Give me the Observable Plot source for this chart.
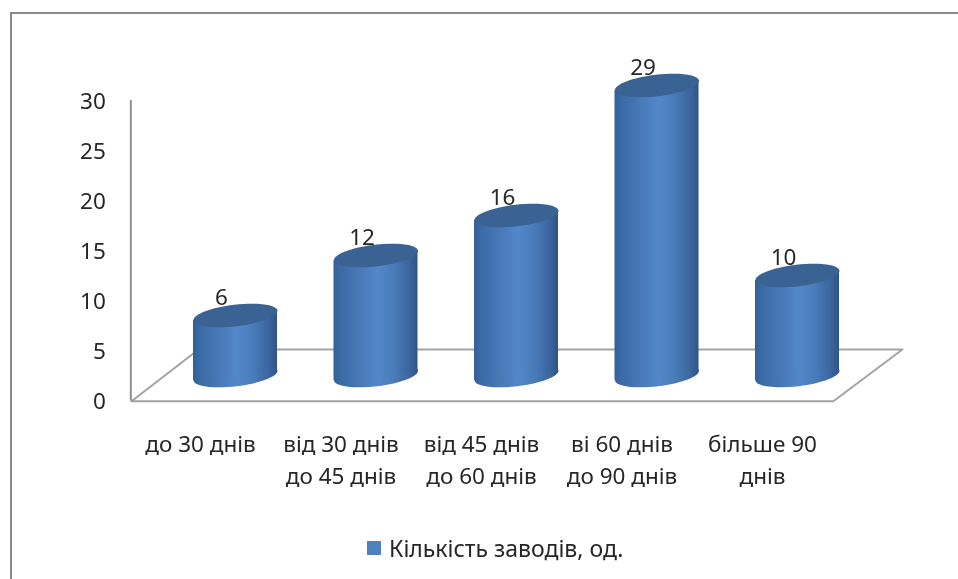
<!DOCTYPE html>
<html lang="uk">
<head>
<meta charset="utf-8">
<script src="https://cdn.jsdelivr.net/npm/d3@7"></script>
<script src="https://cdn.jsdelivr.net/npm/@observablehq/plot@0.6"></script>
<style>
  html, body { margin: 0; padding: 0; background: #fff; }
  #page { position: relative; width: 958px; height: 579px; overflow: hidden; filter: blur(0.6px); font-family: "Noto Sans", sans-serif; color: #262626; }
  #edge { position: absolute; left: 10px; top: 12px; right: 0; bottom: 0; border-left: 2px solid #8a8a8a; border-top: 2px solid #8a8a8a; }
  #chart svg { display: block; }
  #legend { display: flex; align-items: center; height: 56px; padding-left: 367px; font-size: 23px; box-sizing: border-box; }
  #legend i { display: block; width: 14px; height: 14px; background: #4f81bd; margin-right: 8px; }
</style>
</head>
<body>
<div id="page">
  <div id="edge"></div>
  <div id="chart"></div>
  <div id="legend"><i></i><span id="legend-text"></span></div>
</div>
<script>
const categories = ["до 30 днів", "від 30 днів\nдо 45 днів", "від 45 днів\nдо 60 днів", "ві 60 днів\nдо 90 днів", "більше 90\nднів"];
const values = [6, 12, 16, 29, 10];
const seriesName = "Кількість заводів, од.";
const yTicks = [0, 5, 10, 15, 20, 25, 30];
const floorX = [-0.74, 4.255, 4.747, -0.263, -0.74];
const floorY = [-0.08, -0.08, 5.1, 5.1, -0.08];

const halfWidth = 0.299;   // half a cylinder, in category units
const tilt = 0.5;          // rise of the rim from centre to edge, in value units
const lift = -25;          // cylinders stand on the middle of the floor

const index = values.map((_, i) => i);
const sides = index.flatMap(i => [
  {i, x: i - halfWidth, y1: -tilt, y2: values[i] - tilt},
  {i, x: i + halfWidth, y1: tilt, y2: values[i] + tilt}
]);
const floor = floorX.map((x, j) => ({x, y: floorY[j]}));

// A tilted ellipse, as a symbol for the dot mark
const ellipse = (a, b, angle) => ({
  draw(ctx) {
    const c = Math.cos(angle), s = Math.sin(angle), k = 0.5523;
    const p = (x, y) => [x * c - y * s, x * s + y * c];
    ctx.moveTo(...p(a, 0));
    ctx.bezierCurveTo(...p(a, k * b), ...p(k * a, b), ...p(0, b));
    ctx.bezierCurveTo(...p(-k * a, b), ...p(-a, k * b), ...p(-a, 0));
    ctx.bezierCurveTo(...p(-a, -k * b), ...p(-k * a, -b), ...p(0, -b));
    ctx.bezierCurveTo(...p(k * a, -b), ...p(a, -k * b), ...p(a, 0));
    ctx.closePath();
  }
});
const rim = ellipse(42.3, 10.8, -0.118);

const gradient = () => {
  const defs = d3.create("svg:defs");
  const g = defs.append("linearGradient").attr("id", "cyl").attr("x1", 0).attr("x2", 1).attr("y1", 0).attr("y2", 0);
  [[0, "#33609a"], [0.1, "#3c6ca7"], [0.3, "#4878b6"], [0.52, "#5287ca"], [0.72, "#487bb8"], [0.9, "#3b659e"], [1, "#2f5585"]]
    .forEach(([o, c]) => g.append("stop").attr("offset", o).attr("stop-color", c));
  return defs.node();
};

const font = {fontSize: 22.5, fill: "#262626"};
const chart = Plot.plot({
  width: 958,
  height: 520,
  marginLeft: 0, marginRight: 0, marginTop: 0, marginBottom: 0,
  style: {fontFamily: '"Noto Sans", sans-serif', background: "transparent", overflow: "visible"},
  x: {type: "linear", domain: [-0.5, 4.5], range: [164.75, 867.25], axis: null},
  y: {domain: [0, 30], range: [400, 100], axis: null},
  marks: [
    gradient,
    Plot.line(floor, {x: "x", y: "y", stroke: "#a3a3a3", strokeWidth: 2}),
    Plot.ruleX([-0.745], {y1: -0.08, y2: 30, stroke: "#8f8f8f", strokeWidth: 2}),
    Plot.text(yTicks, {x: () => -0.745, y: d => d, text: d => String(d), textAnchor: "end", dx: -25, dy: 1, ...font}),
    Plot.text(index, {x: d => d, y: () => 0, text: d => categories[d], dx: -35, dy: 29, lineAnchor: "top", lineHeight: 1.42, ...font}),
    Plot.dot(index, {x: d => d, y: () => 0, dy: lift, symbol: rim, fill: "url(#cyl)", stroke: "none"}),
    Plot.area(sides, {x1: "x", y1: "y1", y2: "y2", z: "i", dy: lift, fill: "url(#cyl)"}),
    Plot.dot(index, {x: d => d, y: d => values[d], dy: lift, symbol: rim, fill: "#3a6292", stroke: "none"}),
    Plot.text(index, {x: d => d, y: d => values[d], text: d => String(values[d]), dx: -14, dy: lift - 18, ...font})
  ]
});
document.getElementById("chart").append(chart);
document.getElementById("legend-text").textContent = seriesName;
</script>
</body>
</html>
